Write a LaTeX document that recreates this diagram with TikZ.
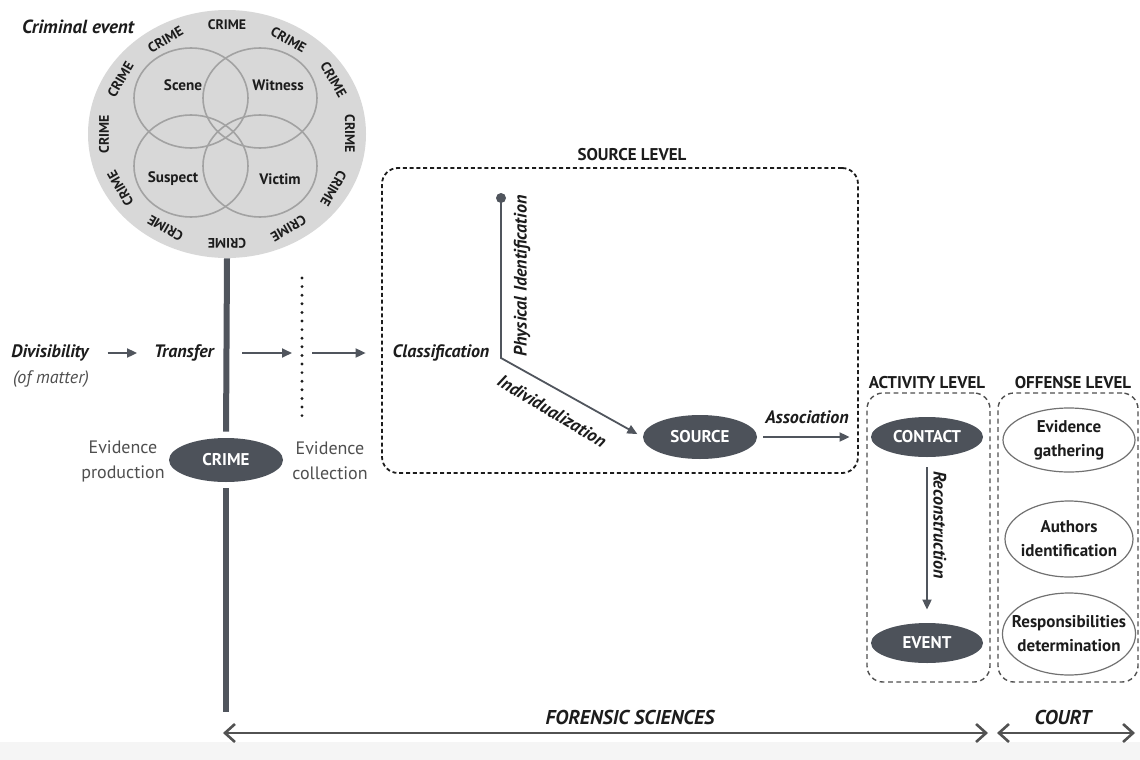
\documentclass[tikz,border=0pt]{standalone}
\usepackage{fontspec}
\setmainfont{PT Sans}
\usetikzlibrary{shapes.geometric,arrows.meta,positioning}
\definecolor{darkfill}{HTML}{4D525A}
\definecolor{ringfill}{HTML}{D8D8D8}
\definecolor{ringline}{HTML}{A2A2A2}
\definecolor{linegray}{HTML}{50555D}
\definecolor{textgray}{HTML}{4F4F4F}
\definecolor{inkblack}{HTML}{1C1C1C}
\tikzset{
  darknode/.style={ellipse, fill=darkfill, text=white, inner sep=0pt,
    font=\bfseries\fontsize{8.5}{10}\selectfont, minimum width=57pt, minimum height=22pt},
  lightnode/.style={ellipse, draw=ringline!70!black, line width=0.6pt, fill=white, inner xsep=-5pt, inner ysep=0pt,
    align=center, text=inkblack, font=\bfseries\fontsize{8.5}{12}\selectfont},
  boldit/.style={text=inkblack, font=\bfseries\itshape\fontsize{9}{10}\selectfont},
  plaintext/.style={text=textgray, align=center, font=\fontsize{9}{12.5}\selectfont},
  levelname/.style={text=inkblack, font=\bfseries\fontsize{8.5}{10}\selectfont},
  crimetag/.style={text=inkblack, inner sep=0pt, font=\bfseries\fontsize{6.9}{7}\selectfont},
  partname/.style={text=inkblack, font=\bfseries\fontsize{7.6}{9}\selectfont},
  conn/.style={draw=linegray, line width=0.9pt, -{Triangle[length=5pt,width=4.5pt]}},
  srcbox/.style={draw=inkblack, line width=0.9pt, rounded corners=8pt, dash pattern=on 2pt off 1.4pt},
  lvlbox/.style={draw=textgray, line width=0.7pt, rounded corners=8pt, dash pattern=on 2.4pt off 1.8pt},
  span/.style={draw=black!68, line width=1.3pt, {Straight Barb[length=5pt,width=9pt]}-{Straight Barb[length=5pt,width=9pt]}},
}
\begin{document}
\begin{tikzpicture}[x=0.5pt,y=-0.5pt]
\useasboundingbox (0,0) rectangle (1140,760);
\fill[black!4] (0,742) rectangle (1140,760);

\node[ellipse, fill=ringfill, inner sep=0pt, minimum width=139pt, minimum height=124pt] (event) at (227,134) {};
\draw[ringline, line width=0.8pt] (191,98) ellipse [x radius=28.5pt, y radius=25pt];
\draw[ringline, line width=0.8pt] (260,98) ellipse [x radius=28.5pt, y radius=25pt];
\draw[ringline, line width=0.8pt] (191,166) ellipse [x radius=28.5pt, y radius=25.5pt];
\draw[ringline, line width=0.8pt] (260,166) ellipse [x radius=28.5pt, y radius=25.5pt];
\node[partname] (scene) at (183,85) {Scene};
\node[partname] (witness) at (278,85) {Witness};
\node[partname] (suspect) at (173,179) {Suspect};
\node[partname] (victim) at (280,179) {Victim};
\begin{scope}[shift={(227,134)}]
  \foreach \a in {0,30,...,330}
    \node[crimetag, rotate=\a-90] (tag\a) at (\a:61.5pt and 54.5pt) {CRIME};
\end{scope}
\node[boldit, font=\bfseries\itshape\fontsize{9.5}{10}\selectfont] (crimevt) at (78,27) {Criminal event};

\node[darknode] (crime) at (226,460) {CRIME};
\coordinate (barend) at (226,712);
\draw[linegray, line width=3pt, shorten >=3pt] (event.south) -- (crime.north);
\draw[linegray, line width=3pt, shorten <=3pt] (crime.south) -- (barend);
\node[plaintext] (prod) at (123,461) {Evidence\\production};
\node[plaintext] (collect) at (330,461) {Evidence\\collection};

\node[boldit] (div) at (50,353) {Divisibility};
\node[plaintext, font=\itshape\fontsize{9}{10}\selectfont] (matter) at (51,379) {(of matter)};
\node[boldit] (transfer) at (184,353) {Transfer};
\coordinate (gate) at (302,353);
\draw[inkblack, line width=1.6pt, dash pattern=on 0pt off 4.3pt, line cap=round] (302,278) -- (302,420);
\draw[conn, shorten <=6pt, shorten >=5pt] (div) -- (transfer);
\draw[conn] ([xshift=-30pt]gate) -- ([xshift=-5pt]gate);

\node[draw=none, minimum width=238pt, minimum height=152.5pt, srcbox] (srclevel) at (620,320.5) {};
\node[levelname] (srctitle) at (632,155) {SOURCE LEVEL};
\node[boldit, font=\itshape\fontsize{9}{10}\selectfont\bfseries] (classif) at (441,353) {Classification};
\draw[conn] ([xshift=5pt]gate) -- ([xshift=-10pt]classif.west);

\node[circle, fill=linegray, inner sep=0pt, minimum size=5pt] (pidot) at (501,198) {};
\coordinate (corner) at (501,358);
\node[darknode] (source) at (700,437) {SOURCE};
\draw[conn, shorten >=3pt] (pidot.center) -- (corner) -- (source.west);
\node[boldit, rotate=90] (physid) at (522,276) {Physical Identification};
\node[boldit, rotate=-31] (indiv) at (552,411) {Individualization};

\node[draw=none, minimum width=61.5pt, minimum height=144.5pt, lvlbox] (actlevel) at (928.5,537.5) {};
\node[levelname] (acttitle) at (927,383) {ACTIVITY LEVEL};
\node[darknode, minimum width=56pt, minimum height=20pt] (contact) at (927,437) {CONTACT};
\node[darknode, minimum width=56pt, minimum height=20pt] (evnt) at (927,643) {EVENT};
\draw[conn, shorten <=3pt, shorten >=10.5pt] (source.east) -- (contact.west);
\node[boldit] (assoc) at (807,417) {Association};
\draw[conn, shorten <=5pt, shorten >=6.5pt] (contact.south) -- (evnt.north);
\node[boldit, rotate=-90] (recon) at (940,525) {Reconstruction};

\node[draw=none, minimum width=70pt, minimum height=144.5pt, lvlbox] (offlevel) at (1068,537.5) {};
\node[levelname] (offtitle) at (1073,383) {OFFENSE LEVEL};
\node[lightnode, minimum width=66pt, minimum height=32pt] (gather) at (1069,440) {Evidence\\gathering};
\node[lightnode, minimum width=64pt, minimum height=38pt] (authors) at (1069,539) {Authors\\identification};
\node[lightnode, minimum width=66pt, minimum height=41pt] (resp) at (1069,634) {Responsibilities\\determination};

\node[boldit, font=\bfseries\itshape\fontsize{10}{11}\selectfont] (forensic) at (630,717) {FORENSIC SCIENCES};
\node[boldit, font=\bfseries\itshape\fontsize{10}{11}\selectfont] (court) at (1063,717) {COURT};
\coordinate (fsleft) at (223,733);
\coordinate (fsright) at (988,733);
\coordinate (ctleft) at (997,733);
\coordinate (ctright) at (1135,733);
\draw[span] (fsleft) -- (fsright);
\draw[span] (ctleft) -- (ctright);
\end{tikzpicture}
\end{document}
